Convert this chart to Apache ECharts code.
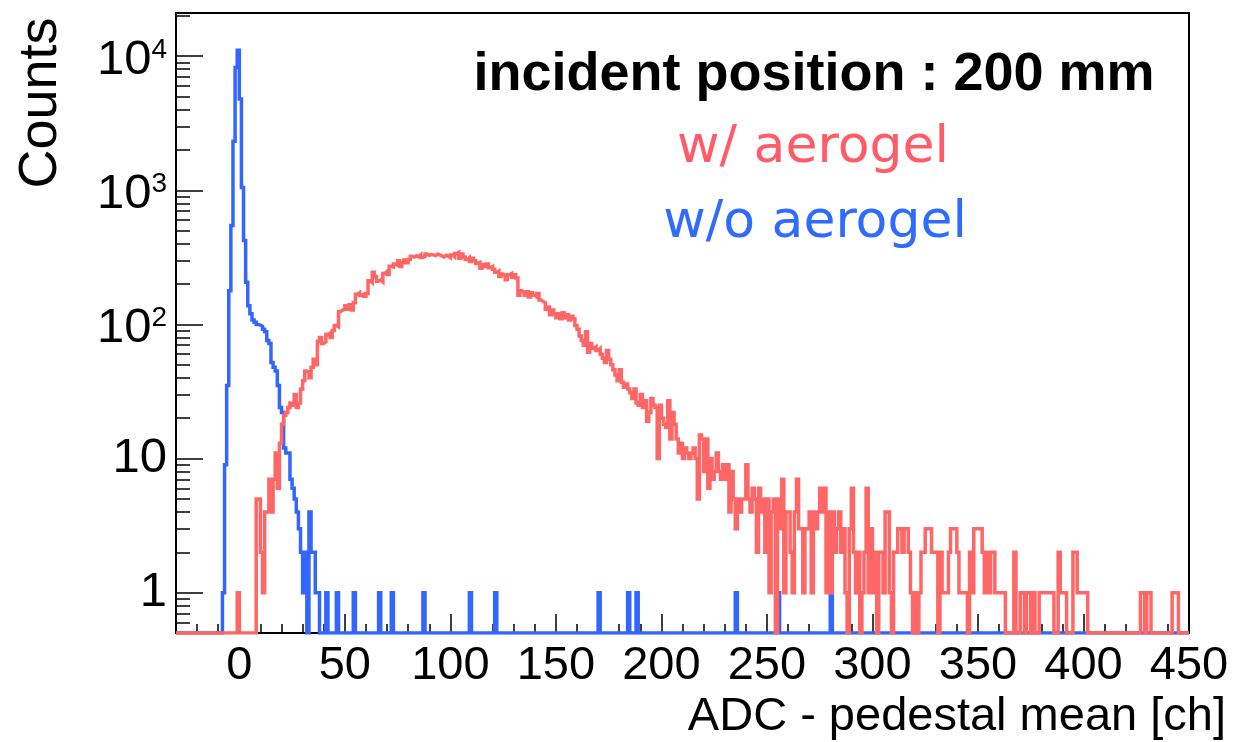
<!DOCTYPE html>
<html>
<head>
<meta charset="utf-8">
<script src="https://cdn.jsdelivr.net/npm/echarts@6/dist/echarts.min.js"></script>
<style>
html,body{margin:0;padding:0;background:#ffffff;}
#chart{width:1233px;height:742px;}
</style>
</head>
<body>
<div id="chart"></div>
<script>
// ---- histogram binning (ADC - pedestal mean [ch]) ----
const binLow = -30;      // low edge of first bin
const binWidth = 1;      // channel width of each bin

// w/o aerogel counts, bins -30 .. 449
const blueCounts = [
  0,0,0,0,0,0,0,0,0,0, 0,0,0,0,0,0,0,0,0,0,
  0,0,1,9,35,178,546,2320,8230,11100,
  4790,1050,423,206,138,120,108,104,100,99,
  97,92,88,76,72,52,48,45,35,24,
  22,12,11,11,7,6,5,4,3,2,
  1,2,0,4,2,2,1,1,0,0,
  0,1,0,0,0,0,1,0,0,0,
  0,0,0,0,1,0,0,0,0,0,
  0,0,0,0,0,0,1,0,0,0,
  0,0,1,0,0,0,0,0,0,0,
  0,0,0,0,0,0,0,1,0,0,
  0,0,0,0,0,0,0,0,0,0,
  0,0,0,0,0,0,0,0,0,1,
  0,0,0,0,0,0,0,0,0,0,
  0,1,0,0,0,0,0,0,0,0,
  0,0,0,0,0,0,0,0,0,0, 0,0,0,0,0,0,0,0,0,0, 0,0,0,0,0,0,0,0,0,0, 0,0,0,0,0,0,0,0,0,0,
  1,0,0,0,0,0,0,0,0,0,
  0,0,0,0,1,0,0,0,1,0,
  0,0,0,0,0,0,0,0,0,0, 0,0,0,0,0,0,0,0,0,0, 0,0,0,0,0,0,0,0,0,0, 0,0,0,0,0,0,0,0,0,0,
  0,0,0,0,0,1,0,0,0,0,
  0,0,0,0,0,0,0,0,0,0,
  0,0,0,0,0,1,0,0,0,0,
  0,0,0,0,0,0,0,0,0,0, 0,0,0,0,0,0,0,0,0,0,
  1,0,0,0,0,0,0,0,0,0,
  0,0,0,0,0,0,0,0,0,0, 0,0,0,0,0,0,0,0,0,0, 0,0,0,0,0,0,0,0,0,0, 0,0,0,0,0,0,0,0,0,0,
  0,0,0,0,0,0,0,0,0,0, 0,0,0,0,0,0,0,0,0,0, 0,0,0,0,0,0,0,0,0,0, 0,0,0,0,0,0,0,0,0,0,
  0,0,0,0,0,0,0,0,0,0, 0,0,0,0,0,0,0,0,0,0, 0,0,0,0,0,0,0,0,0,0, 0,0,0,0,0,0,0,0,0,0,
  0,0,0,0,0,0,0,0,0,0, 0,0,0,0,0,0,0,0,0,0, 0,0,0,0,0,0,0,0,0,0, 0,0,0,0,0,0,0,0,0,0
];

// w/ aerogel counts, bins -30 .. 449
const redCounts = [
  0,0,0,0,0,0,0,0,0,0, 0,0,0,0,0,0,0,0,0,0,
  0,0,0,0,0,0,0,0,0,1,
  0,0,0,0,0,0,0,0,5,5,
  2,1,4,4,7,4,7,11,6,13,
  18,21,22,24,26,25,30,24,26,33,
  38,45,44,40,48,55,50,75,80,72,
  74,84,86,80,90,98,96,125,128,132,
  138,130,140,128,145,168,172,165,168,162,
  170,212,205,245,228,210,215,208,240,248,
  236,272,268,282,276,298,270,290,302,288,
  305,322,318,325,320,330,315,320,335,328,
  332,330,326,335,330,325,318,328,322,315,
  330,320,338,345,312,335,318,305,315,295,
  312,298,285,290,262,280,270,282,265,270,
  258,245,250,228,238,230,215,235,240,225,
  235,222,165,178,172,165,175,160,172,165,
  160,170,152,148,145,130,135,118,128,120,
  112,120,110,122,112,118,108,115,110,98,
  92,82,76,70,88,62,72,66,68,64,
  66,60,56,52,64,55,50,46,42,38,
  46,37,34,36,33,31,28,33,26,25,
  30,24,27,19,22,28,25,24,10,25,
  20,18,17,27,14,22,18,14,11,13,
  10,12,11,10,11,12,10,5,15,14,
  8,14,6,10,7,8,11,8,7,9,
  7,9,4,8,5,3,5,4,5,5,
  9,5,4,6,5,2,6,4,5,2,
  5,1,4,5,0,5,3,7,1,4,
  4,2,1,4,7,3,3,1,3,3,
  4,1,4,3,4,6,4,6,1,4,
  1,4,2,3,4,2,3,1,0,3,
  6,2,1,2,0,1,2,6,1,3,
  1,2,0,2,2,1,4,4,1,0,
  2,2,3,3,2,3,3,2,1,0,
  1,0,1,2,2,3,3,3,2,2,
  2,0,2,1,1,1,2,3,3,3,
  2,1,1,1,1,0,2,1,3,3,
  3,3,2,1,2,1,2,2,1,1,
  1,1,1,0,0,0,0,2,0,0,
  1,1,0,1,1,0,1,0,0,1,
  1,1,1,1,1,1,0,0,2,1,
  1,1,0,0,0,2,2,1,1,1,
  1,1,0,0,0,0,0,0,0,0,
  0,0,0,0,0,0,0,0,0,0,
  0,0,0,0,0,0,0,1,1,0,
  1,1,0,0,0,0,0,0,0,0,
  0,0,1,1,1,0,0,0,0,0
];

// ---- axes ----
const xRange = [-30, 450];
const yRange = [0.5, 21000];
const xMajorTicks = [0, 50, 100, 150, 200, 250, 300, 350, 400, 450];
const xMinorTicks = [-20, -10, 10, 20, 30, 40, 60, 70, 80, 90, 110, 120, 130, 140, 160, 170, 180, 190,
  210, 220, 230, 240, 260, 270, 280, 290, 310, 320, 330, 340, 360, 370, 380, 390, 410, 420, 430, 440];
const yMajorTicks = [1, 10, 100, 1000, 10000];
const yTickLabels = ['1', '10', '10^2', '10^3', '10^4'];
const yMinorTicks = [0.6, 0.7, 0.8, 0.9, 2, 3, 4, 5, 6, 7, 8, 9, 20, 30, 40, 50, 60, 70, 80, 90,
  200, 300, 400, 500, 600, 700, 800, 900, 2000, 3000, 4000, 5000, 6000, 7000, 8000, 9000, 20000];

const xTitle = 'ADC - pedestal mean [ch]';
const yTitle = 'Counts';
const headline = 'incident position : 200 mm';
const seriesNames = ['w/o aerogel', 'w/ aerogel'];

const BLUE = '#3366ff';
const RED = '#ff6666';
const FONT = '"Liberation Sans", Arial, Helvetica, sans-serif';

// ROOT draws empty bins on the floor of a log-scaled frame
function histPoints(counts) {
  const pts = counts.map((c, i) => [binLow + i * binWidth, c > 0 ? c : yRange[0]]);
  const last = counts[counts.length - 1];
  pts.push([binLow + counts.length * binWidth, last > 0 ? last : yRange[0]]);
  return pts;
}

function yLabelFormatter(v) {
  const e = Math.round(Math.log10(v));
  const idx = yMajorTicks.findIndex(t => Math.round(Math.log10(t)) === e);
  const txt = idx >= 0 ? yTickLabels[idx] : String(v);
  if (txt.indexOf('^') >= 0) {
    const parts = txt.split('^');
    return '{b|' + parts[0] + '}{s|' + parts[1] + '}';
  }
  return '{p|' + txt + '}';
}

const chart = echarts.init(document.getElementById('chart'), null, {renderer: 'canvas'});
const tickStyle = {color: '#000', width: 1.5};
const noLine = {show: false, onZero: false};

chart.setOption({
  animation: false,
  backgroundColor: '#ffffff',
  grid: {left: 176, top: 13, width: 1013, height: 620, show: true,
         borderColor: '#000', borderWidth: 2, backgroundColor: 'transparent', containLabel: false},
  xAxis: [
    {type: 'value', min: xRange[0], max: xRange[1], position: 'bottom',
     axisLine: noLine, splitLine: {show: false},
     axisTick: {show: true, inside: true, length: 19, customValues: xMajorTicks, lineStyle: tickStyle},
     axisLabel: {show: true, customValues: xMajorTicks, margin: 10, color: '#000',
                 fontSize: 47, fontFamily: FONT}},
    {type: 'value', min: xRange[0], max: xRange[1], position: 'bottom',
     axisLine: noLine, splitLine: {show: false},
     axisTick: {show: true, inside: true, length: 9, customValues: xMinorTicks, lineStyle: tickStyle},
     axisLabel: {show: false}}
  ],
  yAxis: [
    {type: 'log', logBase: 10, min: yRange[0], max: yRange[1], position: 'left',
     axisLine: noLine, splitLine: {show: false},
     axisTick: {show: true, inside: true, length: 27, customValues: yMajorTicks, lineStyle: tickStyle},
     axisLabel: {show: true, customValues: yMajorTicks, margin: 9, formatter: yLabelFormatter,
       rich: {
         p: {fontSize: 49, fontFamily: FONT, color: '#000'},
         b: {fontSize: 49, fontFamily: FONT, color: '#000', lineHeight: 40, padding: [0, 0, 9, 0], verticalAlign: 'top'},
         s: {fontSize: 28, fontFamily: FONT, color: '#000', lineHeight: 6, padding: [0, 0, 0, 0], verticalAlign: 'top'}
       }}},
    {type: 'log', logBase: 10, min: yRange[0], max: yRange[1], position: 'left',
     axisLine: noLine, splitLine: {show: false},
     axisTick: {show: true, inside: true, length: 14, customValues: yMinorTicks, lineStyle: tickStyle},
     axisLabel: {show: false}}
  ],
  series: [
    {name: seriesNames[0], type: 'line', step: 'end', xAxisIndex: 0, yAxisIndex: 0,
     data: histPoints(blueCounts), showSymbol: false, symbol: 'none', clip: true,
     lineStyle: {color: BLUE, width: 3.5, join: 'miter'}},
    {name: seriesNames[1], type: 'line', step: 'end', xAxisIndex: 0, yAxisIndex: 0,
     data: histPoints(redCounts), showSymbol: false, symbol: 'none', clip: true,
     lineStyle: {color: RED, width: 3.5, join: 'miter'}}
  ],
  graphic: [
    {type: 'text', x: 814, y: 75, style: {text: headline, fontSize: 54, fontWeight: 'bold', fontFamily: FONT,
      fill: '#000', align: 'center', verticalAlign: 'middle'}},
    {type: 'text', x: 813, y: 148, style: {text: seriesNames[1], fontSize: 52, fontFamily: '"DejaVu Sans", sans-serif',
      fill: '#ff5c68', align: 'center', verticalAlign: 'middle'}},
    {type: 'text', x: 815, y: 223, style: {text: seriesNames[0], fontSize: 52, fontFamily: '"DejaVu Sans", sans-serif',
      fill: '#2f6bff', align: 'center', verticalAlign: 'middle'}},
    {type: 'text', x: 41, y: 103, rotation: Math.PI / 2, style: {text: yTitle, fontSize: 54, fontFamily: FONT,
      fill: '#000', align: 'center', verticalAlign: 'middle'}},
    {type: 'text', x: 1226, y: 717, style: {text: xTitle, fontSize: 47, fontFamily: FONT,
      fill: '#000', align: 'right', verticalAlign: 'middle'}}
  ]
});
</script>
</body>
</html>
